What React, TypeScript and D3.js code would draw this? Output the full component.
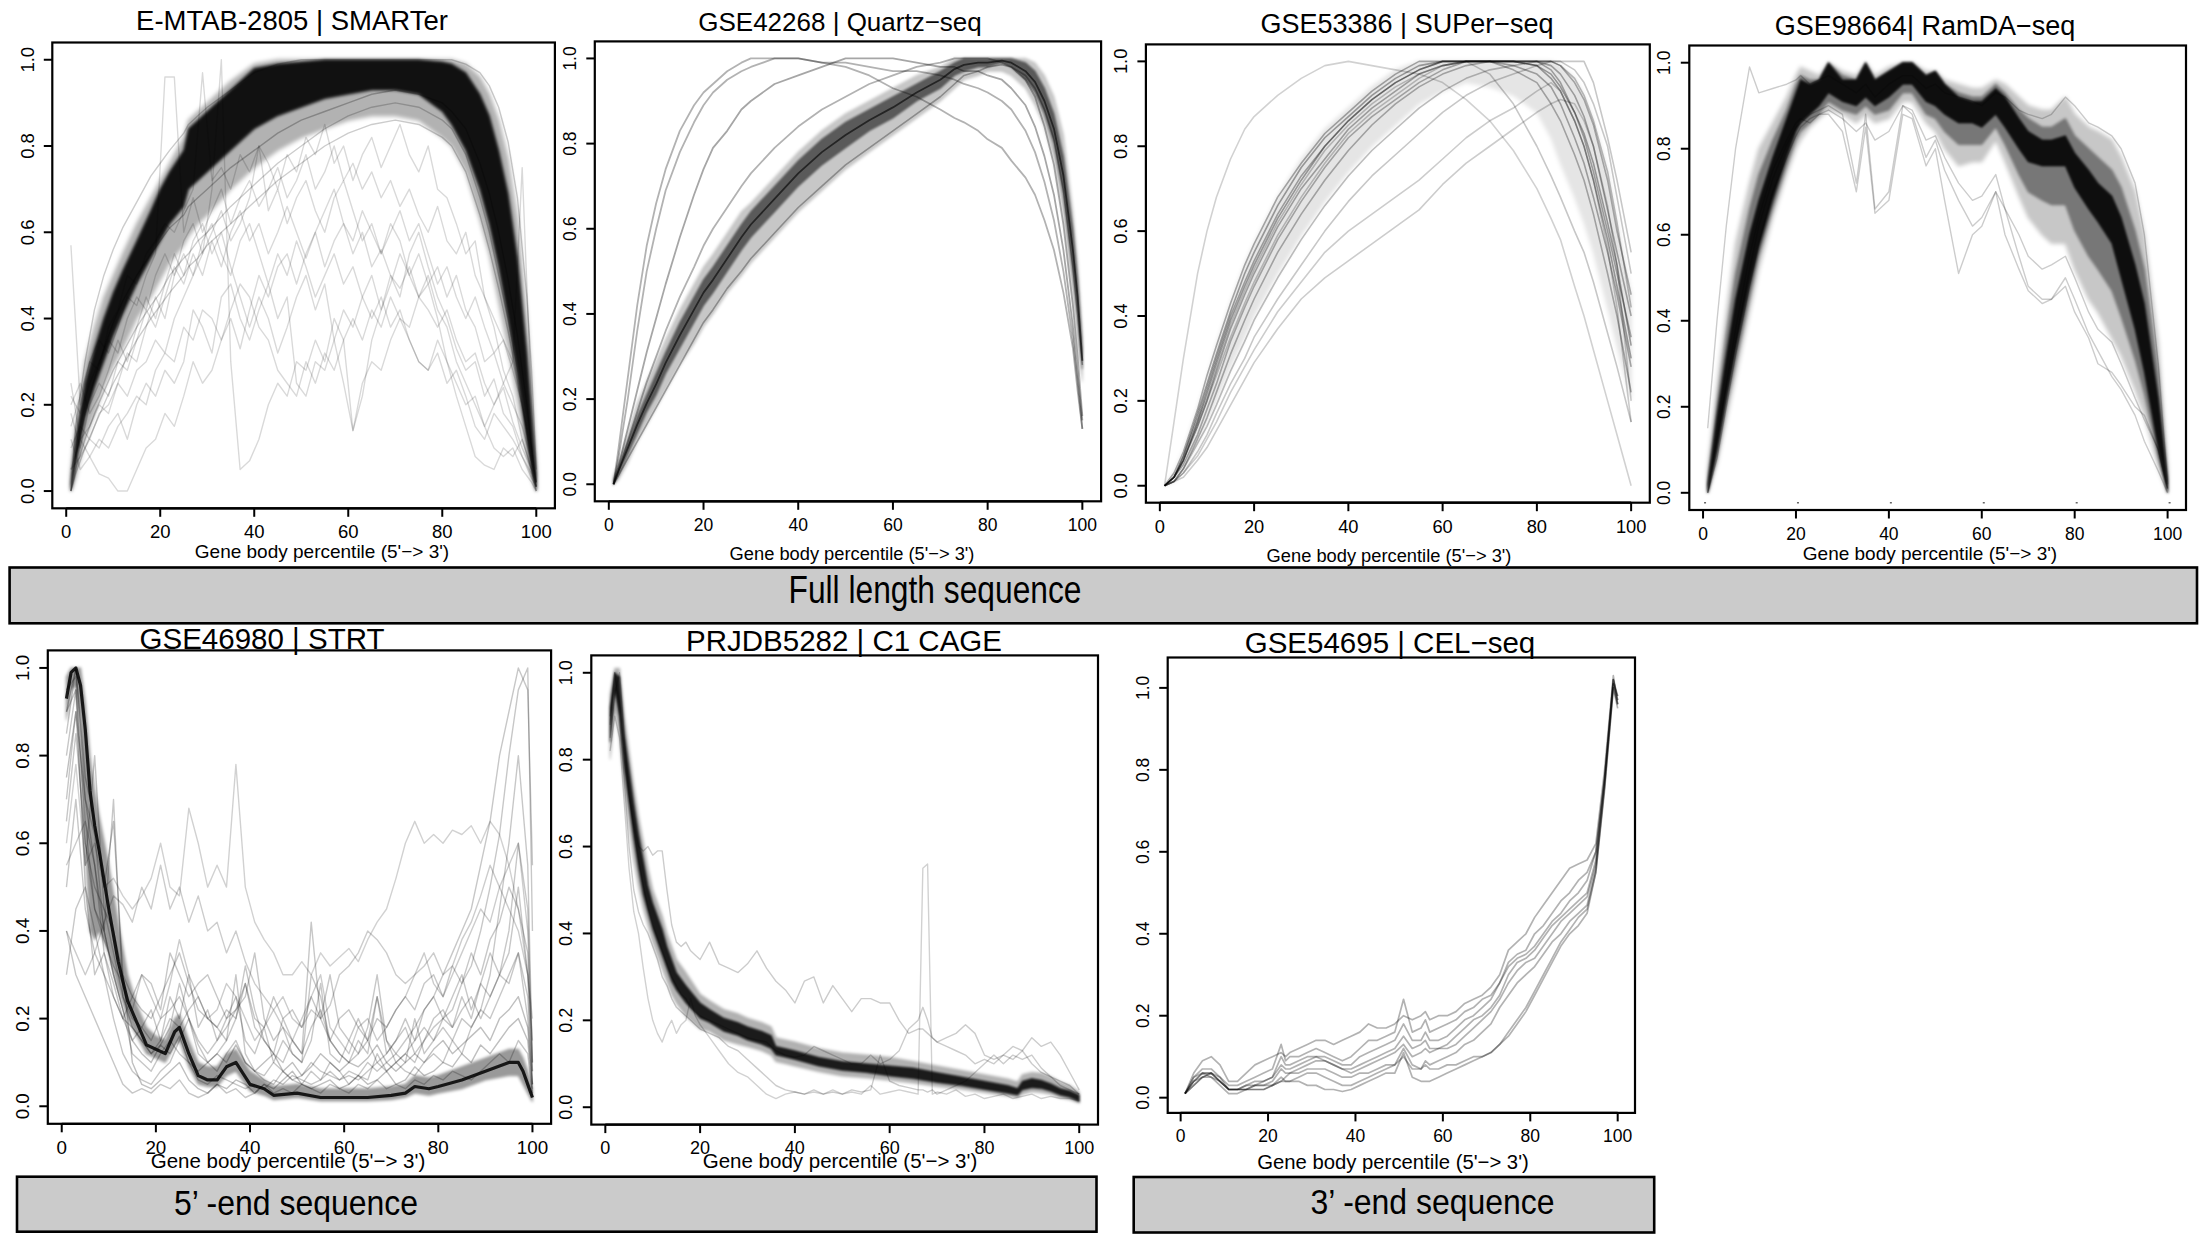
import React from "react";
import * as d3 from "d3";

// ---------------- shared labels / ticks ----------------
const X_TICKS = [0, 20, 40, 60, 80, 100];
const Y_TICKS = [0, 0.2, 0.4, 0.6, 0.8, 1.0];
const X_LABEL = "Gene body percentile (5'\u2212> 3')";
const TITLES = [
  "E-MTAB-2805 | SMARTer",
  "GSE42268 | Quartz\u2212seq",
  "GSE53386 | SUPer\u2212seq",
  "GSE98664| RamDA\u2212seq",
  "GSE46980 | STRT",
  "PRJDB5282 | C1 CAGE",
  "GSE54695 | CEL\u2212seq",
];
const GROUP_LABELS = ["Full length sequence", "5\u2019 -end sequence", "3\u2019 -end sequence"];

// odd percentiles grid used for jagged profiles
const ODD_GRID = [1,3,5,7,9,11,13,15,17,19,21,23,25,27,29,31,33,35,37,39,41,43,45,47,49,51,53,55,57,59,61,63,65,67,69,71,73,75,77,79,81,83,85,87,89,91,93,95,97,99,100];

// ---------------- Panel 1: SMARTer ----------------
const P1_GRID = [1,2,4,6,8,10,12,15,18,20,22,25,26,28,30,35,40,45,50,55,60,65,70,75,80,82,85,88,90,92,94,96,98,99,100];
const P1_CORE_LO = [0.0,0.06,0.17,0.24,0.30,0.36,0.41,0.48,0.54,0.58,0.62,0.66,0.70,0.72,0.74,0.79,0.84,0.87,0.89,0.91,0.92,0.93,0.93,0.92,0.88,0.85,0.79,0.70,0.62,0.52,0.40,0.27,0.12,0.05,0.0];
const P1_CORE_HI = [0.02,0.12,0.25,0.33,0.40,0.46,0.51,0.58,0.65,0.70,0.74,0.79,0.84,0.86,0.88,0.93,0.98,0.99,0.995,1.0,1.0,1.0,1.0,1.0,0.995,0.99,0.97,0.92,0.87,0.79,0.69,0.54,0.32,0.18,0.04];
const P1_OUTER_LO = [0.0,0.03,0.12,0.18,0.24,0.29,0.33,0.40,0.45,0.49,0.53,0.57,0.59,0.62,0.64,0.70,0.75,0.79,0.82,0.84,0.86,0.87,0.87,0.86,0.82,0.80,0.74,0.63,0.55,0.44,0.33,0.21,0.08,0.03,0.0];
const P1_OUTER_HI = [0.04,0.15,0.30,0.38,0.45,0.50,0.55,0.62,0.68,0.72,0.76,0.82,0.86,0.88,0.90,0.95,0.99,1.0,1.0,1.0,1.0,1.0,1.0,1.0,1.0,1.0,0.99,0.96,0.92,0.86,0.77,0.63,0.40,0.25,0.06];
const P1_S1 = [0.0,0.05,0.12,0.18,0.23,0.28,0.32,0.38,0.43,0.46,0.50,0.54,0.55,0.58,0.60,0.66,0.71,0.76,0.80,0.84,0.87,0.89,0.90,0.89,0.86,0.84,0.78,0.68,0.60,0.50,0.40,0.28,0.14,0.07,0.01];
const P1_S2 = [0.0,0.04,0.10,0.15,0.20,0.25,0.29,0.35,0.40,0.43,0.46,0.50,0.52,0.54,0.57,0.62,0.67,0.72,0.76,0.80,0.83,0.85,0.86,0.85,0.82,0.80,0.74,0.64,0.56,0.47,0.37,0.26,0.13,0.06,0.01];
const P1_S3 = [0.0,0.08,0.18,0.26,0.33,0.39,0.44,0.50,0.55,0.58,0.61,0.64,0.66,0.68,0.70,0.75,0.79,0.83,0.86,0.88,0.90,0.92,0.93,0.92,0.90,0.88,0.84,0.76,0.69,0.60,0.49,0.36,0.20,0.10,0.02];
const P1_S4 = [0.0,0.15,0.30,0.42,0.50,0.56,0.61,0.67,0.73,0.76,0.79,0.83,0.85,0.87,0.89,0.93,0.97,0.99,1.0,1.0,1.0,1.0,1.0,1.0,1.0,1.0,0.99,0.97,0.94,0.89,0.81,0.68,0.45,0.28,0.05];
const P1_N1 = [.57,.2,.3,.35,.32,.38,.45,.43,.5,.55,.96,.96,.6,.68,.6,.65,.7,.62,.68,.72,.66,.7,.75,.68,.72,.78,.7,.74,.8,.72,.76,.7,.74,.68,.72,.66,.7,.64,.6,.66,.58,.55,.6,.5,.45,.4,.35,.3,.2,.08,.02];
const P1_N2 = [.25,.12,.08,.04,.03,0,0,.05,.1,.12,.18,.15,.22,.3,.25,.28,.35,.4,.33,.42,.5,.45,.52,.55,.48,.55,.6,.52,.58,.62,.55,.6,.52,.56,.5,.47,.52,.45,.42,.38,.42,.35,.3,.32,.25,.2,.24,.16,.1,.05,.01];
const P1_N3 = [.1,.15,.12,.18,.2,.25,.22,.28,.3,.35,.32,.4,.45,.5,.55,.7,1.0,.3,.05,.07,.12,.2,.25,.22,.3,.28,.35,.3,.4,.35,.14,.25,.3,.28,.35,.4,.38,.45,.5,.42,.38,.3,.25,.2,.15,.1,.08,.1,.05,.02,0];
const P1_N4 = [.2,.25,.18,.22,.28,.35,.3,.38,.45,.4,.48,.55,.5,.58,.62,.55,.6,.52,.45,.38,.45,.4,.32,.38,.45,.5,.42,.48,.35,.25,.14,.22,.35,.42,.5,.45,.55,.6,.52,.45,.4,.33,.28,.3,.22,.26,.18,.15,.08,.03,.01];
const P1_N5 = [.15,.22,.3,.28,.38,.42,.5,.48,.55,.58,.62,.6,.65,.7,.97,.72,.75,.7,.78,.74,.8,.76,.7,.78,.74,.82,.78,.85,.76,.8,.72,.78,.82,.75,.8,.85,.78,.74,.8,.7,.68,.62,.55,.58,.45,.38,.28,.22,.12,.05,.01];
const P1_N6 = [.05,.08,.12,.1,.15,.18,.12,.2,.25,.22,.28,.25,.3,.42,.38,.32,.45,.48,.4,.35,.42,.48,.4,.45,.25,.22,.3,.28,.35,.42,.38,.45,.5,.42,.48,.55,.5,.45,.48,.4,.3,.22,.15,.08,.06,.05,.1,.08,.12,.05,0];
const P1_N7 = [.18,.1,.2,.25,.22,.3,.28,.35,.42,.38,.45,.52,.48,.55,.5,.58,.52,.6,.65,.58,.62,.55,.6,.66,.6,.54,.6,.65,.7,.62,.58,.65,.6,.55,.62,.58,.5,.55,.48,.52,.45,.5,.42,.38,.3,.32,.25,.2,.15,.07,.02];
const P1_N8 = [.05,.12,.15,.2,.18,.25,.32,.3,.38,.45,.4,.5,.55,.5,.58,.62,.55,.5,.58,.62,.55,.48,.55,.5,.58,.52,.45,.5,.55,.48,.52,.45,.4,.45,.38,.42,.35,.3,.28,.35,.3,.25,.2,.22,.15,.2,.25,.3,.75,.2,.02];
const P1_N9 = [.22,.18,.25,.3,.35,.32,.4,.45,.42,.5,.55,.5,.58,.62,.55,.6,.65,.58,.62,.68,.8,.65,.7,.62,.68,.72,.65,.6,.68,.72,.65,.58,.62,.55,.6,.65,.58,.62,.55,.48,.52,.45,.4,.45,.38,.32,.35,.28,.2,.1,.01];
const P1_N10 = [.12,.05,.08,.12,.1,.15,.18,.22,.2,.28,.32,.3,.38,.35,.42,.4,.35,.42,.48,.45,.38,.35,.28,.25,.22,.3,.25,.32,.28,.35,.4,.35,.42,.38,.45,.4,.35,.3,.28,.32,.25,.28,.22,.15,.12,.18,.15,.12,.08,.04,0];

// ---------------- Panel 2: Quartz-seq ----------------
const P2_GRID = [1,2,4,6,8,10,12,15,18,20,22,25,28,30,35,40,45,50,55,60,65,70,73,75,78,80,83,85,88,90,92,94,96,98,99,100];
const P2_CORE_LO = [0.0,0.02,0.07,0.12,0.17,0.21,0.26,0.32,0.38,0.42,0.45,0.50,0.55,0.58,0.64,0.70,0.75,0.79,0.83,0.86,0.90,0.93,0.96,0.97,0.98,0.98,0.99,0.98,0.95,0.92,0.87,0.80,0.68,0.50,0.40,0.27];
const P2_CORE_HI = [0.01,0.04,0.10,0.16,0.21,0.26,0.31,0.38,0.44,0.48,0.51,0.56,0.61,0.64,0.70,0.76,0.81,0.85,0.88,0.91,0.94,0.97,0.99,1.0,1.0,1.0,1.0,1.0,0.99,0.97,0.93,0.87,0.77,0.60,0.48,0.32];
const P2_OUTER_LO = [0.0,0.01,0.05,0.10,0.14,0.18,0.22,0.28,0.33,0.37,0.40,0.45,0.49,0.52,0.58,0.64,0.69,0.74,0.78,0.82,0.86,0.90,0.93,0.95,0.96,0.97,0.97,0.96,0.93,0.89,0.84,0.76,0.63,0.44,0.33,0.24];
const P2_OUTER_HI = [0.02,0.05,0.12,0.19,0.24,0.29,0.34,0.41,0.47,0.51,0.54,0.59,0.64,0.66,0.72,0.78,0.83,0.87,0.90,0.93,0.96,0.98,1.0,1.0,1.0,1.0,1.0,1.0,1.0,0.99,0.96,0.91,0.82,0.64,0.52,0.35];
const P2_Q1 = [0.0,0.08,0.25,0.42,0.56,0.66,0.74,0.83,0.89,0.92,0.94,0.97,0.99,1.0,1.0,1.0,0.99,0.98,0.96,0.93,0.91,0.88,0.86,0.85,0.83,0.81,0.79,0.76,0.72,0.68,0.62,0.55,0.45,0.32,0.22,0.13];
const P2_Q2 = [0.0,0.06,0.20,0.36,0.50,0.60,0.69,0.78,0.85,0.89,0.92,0.95,0.97,0.98,1.0,1.0,0.99,0.99,0.98,0.97,0.97,0.96,0.95,0.94,0.93,0.92,0.90,0.88,0.83,0.78,0.71,0.62,0.50,0.34,0.24,0.13];
const P2_Q3 = [0.0,0.04,0.13,0.22,0.31,0.39,0.47,0.58,0.68,0.74,0.79,0.83,0.88,0.90,0.94,0.96,0.98,1.0,1.0,1.0,0.99,0.98,0.98,0.97,0.97,0.96,0.95,0.93,0.89,0.84,0.77,0.68,0.55,0.37,0.26,0.15];
const P2_Q4 = [0.0,0.03,0.10,0.17,0.24,0.30,0.36,0.44,0.51,0.56,0.60,0.65,0.70,0.73,0.79,0.84,0.88,0.91,0.94,0.96,0.98,0.99,1.0,1.0,1.0,1.0,0.99,0.98,0.95,0.91,0.84,0.75,0.61,0.42,0.30,0.16];
const P2_QC = [0.0,0.03,0.085,0.14,0.19,0.235,0.285,0.35,0.41,0.45,0.48,0.53,0.58,0.61,0.67,0.73,0.78,0.82,0.855,0.885,0.92,0.95,0.975,0.985,0.99,0.99,0.995,0.99,0.97,0.945,0.90,0.835,0.725,0.55,0.44,0.29];
const P2_QL = [0.0,0.02,0.06,0.10,0.14,0.18,0.22,0.28,0.34,0.38,0.41,0.46,0.50,0.53,0.59,0.65,0.70,0.75,0.79,0.83,0.87,0.91,0.94,0.96,0.97,0.98,0.985,0.98,0.96,0.93,0.88,0.81,0.69,0.51,0.40,0.28];

// ---------------- Panel 3: SUPer-seq ----------------
const P3_GRID = [1,3,5,8,10,12,15,18,20,25,30,35,40,45,50,55,60,65,70,75,80,83,85,88,90,92,95,97,100];
const P3_LO = [0,0.01,0.04,0.10,0.15,0.20,0.28,0.35,0.40,0.50,0.59,0.67,0.74,0.80,0.85,0.90,0.93,0.95,0.94,0.92,0.88,0.82,0.76,0.68,0.62,0.55,0.42,0.33,0.20];
const P3_HI = [0.0,0.03,0.08,0.18,0.25,0.33,0.43,0.52,0.57,0.68,0.77,0.84,0.89,0.94,0.98,1.0,1.0,1.0,1.0,1.0,1.0,1.0,0.99,0.96,0.92,0.86,0.74,0.62,0.45];
const P3_S1 = [0,0.03,0.08,0.18,0.26,0.33,0.43,0.52,0.57,0.68,0.76,0.83,0.88,0.93,0.97,1.0,1.0,1.0,1.0,1.0,1.0,0.98,0.95,0.88,0.82,0.74,0.60,0.50,0.35];
const P3_S2 = [0,0.02,0.07,0.16,0.23,0.30,0.40,0.48,0.53,0.64,0.73,0.80,0.86,0.91,0.95,0.98,1.0,1.0,1.0,0.99,0.97,0.94,0.90,0.82,0.76,0.68,0.55,0.45,0.28];
const P3_S3 = [0,0.02,0.06,0.14,0.20,0.27,0.37,0.45,0.50,0.61,0.70,0.77,0.84,0.89,0.93,0.97,0.99,1.0,1.0,1.0,1.0,0.99,0.97,0.92,0.87,0.80,0.65,0.55,0.40];
const P3_S4 = [0,0.02,0.05,0.12,0.18,0.24,0.34,0.42,0.47,0.58,0.67,0.75,0.82,0.87,0.91,0.95,0.98,1.0,1.0,0.98,0.95,0.90,0.86,0.78,0.72,0.64,0.50,0.40,0.22];
const P3_S5 = [0,0.01,0.04,0.11,0.16,0.22,0.31,0.39,0.44,0.55,0.64,0.72,0.79,0.85,0.90,0.94,0.97,0.99,1.0,1.0,1.0,1.0,0.99,0.95,0.91,0.85,0.72,0.60,0.45];
const P3_S6 = [0,0.01,0.04,0.10,0.14,0.19,0.27,0.34,0.39,0.49,0.58,0.66,0.73,0.79,0.84,0.89,0.93,0.96,0.98,0.99,1.0,1.0,0.99,0.96,0.92,0.86,0.74,0.62,0.42];
const P3_S7 = [0,0.01,0.03,0.08,0.12,0.17,0.24,0.30,0.35,0.44,0.52,0.60,0.67,0.73,0.78,0.83,0.88,0.92,0.95,0.97,0.99,1.0,1.0,0.98,0.95,0.90,0.80,0.68,0.50];
const P3_S8 = [0,0.01,0.02,0.06,0.09,0.13,0.19,0.25,0.29,0.37,0.44,0.49,0.53,0.57,0.61,0.65,0.71,0.76,0.80,0.84,0.88,0.90,0.91,0.90,0.86,0.80,0.66,0.52,0.20];
const P3_S9 = [0,0.01,0.03,0.07,0.11,0.15,0.22,0.28,0.32,0.41,0.48,0.55,0.60,0.64,0.68,0.72,0.77,0.82,0.86,0.89,0.93,0.95,0.93,0.86,0.80,0.72,0.56,0.42,0.15];
const P3_S10 = [0,0.02,0.06,0.15,0.21,0.28,0.38,0.46,0.51,0.62,0.71,0.79,0.85,0.90,0.94,0.97,0.99,1.0,0.97,0.90,0.80,0.73,0.68,0.60,0.55,0.48,0.36,0.28,0.15];
const P3_S11 = [0,0.02,0.06,0.14,0.20,0.26,0.35,0.43,0.48,0.59,0.68,0.76,0.83,0.88,0.92,0.96,0.99,1.0,1.0,1.0,1.0,1.0,1.0,1.0,1.0,0.95,0.82,0.72,0.55];
const P3_S12 = [0,0.15,0.30,0.50,0.60,0.68,0.77,0.84,0.87,0.92,0.96,0.99,1.0,0.99,0.98,0.97,0.95,0.91,0.86,0.79,0.70,0.63,0.58,0.47,0.40,0.32,0.20,0.12,0.0];
const P3_S13 = [0,0.02,0.07,0.17,0.24,0.31,0.41,0.50,0.55,0.66,0.75,0.82,0.87,0.92,0.96,0.99,1.0,1.0,1.0,1.0,0.99,0.96,0.93,0.86,0.80,0.72,0.58,0.47,0.30];
const P3_S14 = [0,0.02,0.06,0.15,0.22,0.29,0.39,0.47,0.52,0.63,0.72,0.80,0.86,0.91,0.95,0.98,1.0,1.0,1.0,1.0,0.99,0.97,0.94,0.88,0.83,0.76,0.62,0.52,0.33];

// ---------------- Panel 4: RamDA-seq ----------------
const P4_GRID = [1,3,5,7,10,12,15,18,20,21,23,25,27,30,33,35,37,40,43,45,48,50,52,55,58,60,63,65,68,70,73,75,78,80,83,85,88,90,93,95,98,100];
const P4_CORE_LO = [0.0,0.10,0.22,0.33,0.48,0.57,0.68,0.78,0.84,0.86,0.88,0.90,0.93,0.91,0.90,0.92,0.90,0.92,0.95,0.95,0.91,0.90,0.88,0.86,0.86,0.85,0.88,0.85,0.80,0.77,0.76,0.76,0.76,0.71,0.66,0.63,0.58,0.50,0.38,0.28,0.10,0.0];
const P4_CORE_HI = [0.02,0.18,0.32,0.45,0.60,0.68,0.78,0.87,0.93,0.96,0.95,0.96,1.0,0.96,0.96,1.0,0.96,0.98,1.0,1.0,0.97,0.98,0.95,0.92,0.91,0.91,0.94,0.92,0.87,0.84,0.82,0.82,0.83,0.79,0.75,0.72,0.69,0.64,0.53,0.44,0.22,0.03];
const P4_MID_LO = [0.0,0.08,0.2,0.3,0.45,0.55,0.66,0.76,0.82,0.84,0.86,0.88,0.91,0.89,0.88,0.9,0.88,0.89,0.93,0.93,0.88,0.87,0.84,0.81,0.81,0.81,0.85,0.81,0.74,0.7,0.68,0.67,0.67,0.61,0.55,0.52,0.47,0.41,0.31,0.23,0.08,0.0];
const P4_MID_HI = [0.03,0.21,0.37,0.51,0.66,0.74,0.82,0.89,0.95,0.97,0.96,0.96,1.0,0.97,0.96,1.0,0.96,0.98,1.0,1.0,0.97,0.98,0.95,0.93,0.92,0.92,0.95,0.93,0.89,0.87,0.85,0.85,0.87,0.83,0.8,0.78,0.75,0.71,0.61,0.52,0.28,0.04];
const P4_OUTER_LO = [0.0,0.07,0.17,0.27,0.42,0.52,0.64,0.74,0.80,0.82,0.85,0.87,0.89,0.88,0.86,0.88,0.86,0.87,0.91,0.91,0.86,0.84,0.80,0.76,0.77,0.77,0.82,0.77,0.69,0.64,0.60,0.58,0.58,0.52,0.45,0.42,0.36,0.32,0.24,0.18,0.06,0.0];
const P4_OUTER_HI = [0.05,0.25,0.42,0.58,0.72,0.80,0.86,0.92,0.97,0.99,0.98,0.97,1.0,0.98,0.97,1.0,0.97,0.99,1.0,1.0,0.98,0.98,0.96,0.95,0.94,0.94,0.96,0.95,0.92,0.90,0.89,0.89,0.92,0.88,0.85,0.84,0.82,0.78,0.70,0.60,0.35,0.06];
const P4_R1 = [0.0,0.12,0.25,0.38,0.55,0.64,0.75,0.82,0.86,0.87,0.86,0.88,0.88,0.84,0.70,0.85,0.65,0.68,0.88,0.87,0.76,0.80,0.68,0.51,0.60,0.62,0.70,0.60,0.52,0.47,0.44,0.45,0.50,0.45,0.37,0.33,0.27,0.24,0.18,0.12,0.05,0.0];
const P4_R2 = [0.0,0.10,0.22,0.35,0.52,0.62,0.73,0.81,0.85,0.86,0.88,0.89,0.90,0.88,0.72,0.88,0.66,0.70,0.90,0.88,0.78,0.82,0.75,0.68,0.62,0.64,0.70,0.66,0.60,0.55,0.52,0.53,0.55,0.50,0.42,0.38,0.35,0.30,0.22,0.17,0.10,0.01];
const P4_R3 = [0.15,0.40,0.62,0.80,0.99,0.93,0.94,0.95,0.96,0.97,0.95,0.96,0.97,0.95,0.93,0.95,0.92,0.95,0.97,0.97,0.94,0.95,0.93,0.92,0.91,0.90,0.93,0.92,0.89,0.88,0.87,0.88,0.92,0.90,0.86,0.85,0.83,0.80,0.72,0.60,0.30,0.02];
const P4_R4 = [0.0,0.08,0.20,0.32,0.48,0.58,0.70,0.78,0.83,0.85,0.87,0.88,0.89,0.87,0.84,0.86,0.82,0.84,0.90,0.89,0.82,0.83,0.78,0.72,0.68,0.69,0.74,0.66,0.55,0.48,0.45,0.45,0.48,0.42,0.36,0.30,0.28,0.25,0.20,0.18,0.10,0.01];

// ---------------- Panel 5: STRT ----------------
const P5_GRID = [1,2,3,4,5,6,7,8,10,12,14,16,18,20,22,24,25,27,29,31,33,35,37,40,43,45,50,55,60,65,70,73,75,78,80,85,90,95,97,98,99,100];
const P5_CORE = [0.93,0.99,1.0,0.96,0.86,0.72,0.64,0.58,0.45,0.33,0.24,0.19,0.14,0.13,0.12,0.17,0.18,0.12,0.07,0.06,0.06,0.09,0.10,0.05,0.04,0.025,0.03,0.02,0.02,0.02,0.025,0.03,0.045,0.04,0.045,0.06,0.08,0.10,0.10,0.08,0.05,0.02];
const P5_CORE_LO = [0.88,0.95,0.96,0.88,0.60,0.40,0.38,0.40,0.35,0.27,0.20,0.16,0.12,0.11,0.10,0.14,0.15,0.09,0.05,0.045,0.045,0.07,0.08,0.035,0.025,0.015,0.02,0.012,0.012,0.012,0.015,0.02,0.03,0.025,0.03,0.04,0.06,0.07,0.07,0.05,0.03,0.01];
const P5_CORE_HI = [0.98,1.0,1.0,1.0,0.92,0.80,0.72,0.66,0.55,0.42,0.30,0.23,0.18,0.16,0.15,0.20,0.21,0.15,0.10,0.09,0.09,0.12,0.13,0.08,0.06,0.045,0.05,0.04,0.04,0.04,0.045,0.05,0.07,0.065,0.07,0.09,0.11,0.13,0.13,0.11,0.08,0.04];
const P5_T1 = [.6,.78,.55,.6,.5,.52,.48,.45,.48,.52,.6,.5,.48,.68,.6,.5,.55,.5,.78,.5,.42,.38,.35,.3,.3,.33,.3,.35,.32,.34,.36,.33,.38,.42,.45,.52,.6,.65,.6,.62,.6,.63,.62,.64,.6,.65,.62,.55,.45,.3,.2];
const P5_T2 = [.4,.35,.3,.35,.42,.48,.46,.42,.5,.45,.55,.45,.5,.42,.48,.4,.42,.35,.4,.33,.28,.25,.22,.25,.2,.18,.22,.2,.23,.3,.32,.35,.4,.38,.35,.3,.28,.3,.32,.35,.3,.32,.38,.42,.48,.55,.5,.45,.4,.3,.15];
const P5_T3 = [.95,.98,.6,.5,.45,.35,.25,.18,.15,.12,.14,.18,.28,.2,.12,.1,.08,.12,.15,.1,.08,.06,.05,.08,.06,.07,.1,.08,.07,.06,.08,.07,.1,.08,.1,.12,.15,.18,.22,.25,.3,.35,.4,.45,.55,.65,.8,.9,1.0,.95,.55];
const P5_T4 = [.85,1.0,.7,.62,.4,.3,.22,.12,.1,.08,.12,.15,.12,.1,.06,.05,.07,.06,.05,.04,.05,.04,.06,.05,.07,.06,.05,.06,.08,.06,.07,.06,.08,.1,.08,.1,.12,.1,.15,.18,.2,.22,.28,.32,.4,.5,.62,.8,.95,1.0,.4];
const P5_T5 = [.7,.9,.55,.8,.45,.4,.3,.25,.22,.2,.25,.3,.35,.28,.22,.2,.18,.22,.2,.32,.22,.15,.12,.2,.15,.12,.42,.2,.3,.18,.15,.2,.15,.25,.12,.15,.2,.15,.22,.25,.2,.25,.3,.22,.28,.35,.3,.4,.6,.45,.1];
const P5_T6 = [.8,.95,.65,.55,.35,.28,.2,.15,.18,.22,.15,.25,.2,.3,.18,.22,.15,.2,.25,.15,.12,.18,.1,.15,.12,.1,.15,.28,.12,.1,.15,.12,.18,.3,.15,.12,.1,.2,.12,.15,.18,.15,.2,.18,.22,.2,.25,.3,.35,.25,.05];
const P5_T7 = [.9,1.0,.75,.65,.5,.65,.3,.1,.05,.04,.06,.08,.1,.06,.04,.03,.05,.04,.06,.05,.03,.05,.04,.06,.08,.05,.04,.05,.06,.04,.05,.07,.05,.06,.08,.05,.06,.09,.07,.08,.1,.09,.12,.1,.14,.12,.15,.18,.2,.15,.03];
const P5_T8 = [.9,.95,.5,.3,.35,.25,.2,.25,.3,.28,.22,.35,.3,.25,.28,.3,.25,.2,.22,.28,.2,.18,.25,.2,.22,.18,.25,.2,.15,.2,.22,.18,.15,.2,.18,.22,.25,.22,.28,.3,.25,.32,.28,.35,.3,.38,.42,.5,.45,.35,.08];
const P5_T9 = [.4,.3,.25,.2,.15,.1,.05,.03,.04,.03,.05,.04,.06,.03,.02,.03,.05,.03,.04,.02,.03,.05,.03,.04,.03,.05,.04,.03,.05,.04,.03,.05,.04,.06,.04,.05,.04,.06,.05,.07,.06,.08,.07,.06,.08,.1,.12,.1,.15,.12,.02];
const P5_T10 = [.65,.85,.6,.45,.4,.7,.25,.2,.18,.15,.2,.22,.25,.2,.15,.12,.15,.18,.22,.25,.35,.2,.15,.18,.12,.1,.3,.25,.15,.12,.1,.15,.12,.25,.15,.1,.12,.15,.18,.15,.2,.18,.22,.25,.2,.25,.3,.35,.5,.3,.05];
const P5_T11 = [.5,.7,.45,.35,.3,.25,.2,.18,.15,.12,.15,.2,.18,.22,.25,.2,.18,.15,.2,.28,.18,.15,.12,.1,.15,.12,.18,.22,.15,.12,.1,.12,.15,.1,.12,.15,.18,.12,.15,.2,.22,.18,.25,.2,.28,.25,.3,.28,.35,.2,.05];
const P5_T12 = [.75,.9,.7,.55,.4,.3,.22,.15,.12,.1,.14,.12,.16,.1,.08,.1,.12,.1,.14,.1,.08,.1,.12,.08,.1,.07,.09,.12,.1,.08,.1,.09,.11,.14,.1,.08,.1,.12,.1,.13,.15,.12,.14,.16,.18,.15,.2,.22,.25,.18,.04];
const P5_T13 = [.3,.45,.5,.4,.3,.2,.12,.08,.06,.05,.08,.1,.15,.2,.14,.1,.12,.15,.3,.12,.08,.07,.1,.08,.06,.05,.08,.06,.1,.08,.05,.07,.06,.12,.08,.1,.08,.07,.1,.12,.1,.15,.12,.18,.22,.3,.45,.6,.8,.55,.1];
const P5_T14 = [.55,.6,.65,.45,.38,.32,.28,.22,.3,.25,.2,.28,.38,.3,.25,.2,.22,.28,.25,.2,.15,.18,.22,.18,.15,.2,.25,.3,.18,.15,.12,.18,.2,.15,.18,.22,.25,.3,.35,.28,.25,.3,.35,.4,.45,.42,.5,.55,.6,.4,.08];

// ---------------- Panel 6: C1 CAGE ----------------
const P6_GRID = [1,2,3,4,5,6,7,8,9,10,11,12,13,14,15,17,20,22,25,28,30,33,35,36,38,40,45,50,55,60,65,70,75,80,85,87,88,90,92,94,96,98,100];
const P6_CORE_LO = [0.84,0.96,0.90,0.78,0.70,0.62,0.55,0.49,0.45,0.41,0.38,0.35,0.32,0.29,0.27,0.24,0.205,0.195,0.175,0.165,0.155,0.145,0.135,0.12,0.115,0.11,0.095,0.085,0.08,0.072,0.066,0.057,0.05,0.041,0.032,0.028,0.04,0.045,0.043,0.037,0.028,0.023,0.013];
const P6_CORE_HI = [0.92,1.0,0.99,0.86,0.78,0.70,0.63,0.57,0.51,0.47,0.44,0.41,0.37,0.34,0.31,0.28,0.24,0.225,0.205,0.195,0.185,0.175,0.165,0.14,0.135,0.13,0.115,0.105,0.10,0.095,0.09,0.08,0.07,0.06,0.05,0.043,0.06,0.066,0.062,0.054,0.043,0.038,0.028];
const P6_OUTER_LO = [0.80,0.92,0.85,0.74,0.65,0.57,0.51,0.46,0.42,0.38,0.35,0.32,0.29,0.26,0.24,0.21,0.18,0.175,0.155,0.145,0.14,0.13,0.12,0.105,0.10,0.095,0.082,0.072,0.068,0.062,0.056,0.048,0.042,0.034,0.026,0.022,0.03,0.036,0.034,0.03,0.022,0.018,0.01];
const P6_OUTER_HI = [0.95,1.01,1.01,0.90,0.82,0.74,0.67,0.61,0.55,0.50,0.47,0.44,0.40,0.37,0.34,0.31,0.26,0.245,0.225,0.215,0.205,0.195,0.185,0.16,0.155,0.15,0.135,0.125,0.12,0.115,0.105,0.095,0.085,0.075,0.065,0.058,0.075,0.08,0.078,0.07,0.058,0.05,0.035];
const P6_NGRID = [1,2,3,4,5,6,7,8,9,10,11,12,13,14,15,16,17,18,19,20,22,24,26,28,30,32,34,36,38,40,42,44,46,48,50,52,54,56,58,60,62,64,66,67,68,69,70,72,74,76,78,80,82,84,86,88,90,92,94,96,98,100];
const P6_UP = [0.85,0.95,1.0,0.85,0.72,0.65,0.60,0.59,0.60,0.58,0.59,0.59,0.50,0.42,0.38,0.37,0.38,0.36,0.35,0.34,0.38,0.33,0.32,0.31,0.33,0.36,0.32,0.29,0.27,0.24,0.29,0.30,0.24,0.28,0.25,0.22,0.25,0.25,0.24,0.24,0.20,0.17,0.18,0.18,0.17,0.16,0.15,0.16,0.17,0.19,0.17,0.12,0.11,0.12,0.14,0.13,0.10,0.08,0.07,0.06,0.05,0.03];
const P6_LOW1 = [0.82,0.90,0.85,0.70,0.55,0.45,0.40,0.32,0.25,0.20,0.17,0.15,0.18,0.20,0.17,0.19,0.20,0.25,0.21,0.19,0.16,0.13,0.10,0.08,0.07,0.05,0.03,0.02,0.03,0.035,0.03,0.035,0.03,0.04,0.03,0.035,0.03,0.05,0.03,0.035,0.04,0.035,0.03,0.55,0.56,0.03,0.035,0.03,0.04,0.025,0.03,0.02,0.025,0.03,0.02,0.025,0.03,0.02,0.025,0.02,0.02,0.015];
const P6_LOW2 = [0.88,1.0,0.90,0.75,0.60,0.50,0.45,0.42,0.40,0.37,0.34,0.30,0.28,0.25,0.23,0.22,0.21,0.20,0.19,0.18,0.17,0.16,0.14,0.13,0.11,0.09,0.07,0.05,0.04,0.035,0.03,0.04,0.03,0.035,0.03,0.04,0.035,0.04,0.12,0.06,0.05,0.045,0.04,0.04,0.035,0.04,0.03,0.04,0.05,0.06,0.08,0.10,0.12,0.10,0.12,0.11,0.12,0.09,0.07,0.05,0.04,0.03];
const P6_MID = [0.90,1.0,0.93,0.80,0.72,0.64,0.57,0.51,0.46,0.42,0.39,0.36,0.33,0.30,0.28,0.26,0.25,0.23,0.22,0.21,0.20,0.19,0.18,0.17,0.16,0.155,0.15,0.13,0.12,0.115,0.12,0.14,0.13,0.12,0.11,0.10,0.10,0.12,0.10,0.11,0.13,0.18,0.20,0.23,0.20,0.16,0.15,0.14,0.13,0.12,0.10,0.11,0.10,0.12,0.11,0.13,0.16,0.14,0.15,0.12,0.08,0.04];

// ---------------- Panel 7: CEL-seq ----------------
const P7_GRID = [1,3,5,7,9,11,13,15,17,19,21,23,24,25,27,29,31,33,35,37,39,41,43,45,47,49,51,53,55,56,57,59,61,63,65,67,69,71,73,75,77,79,81,83,85,87,89,91,93,95,97,99,100];
const P7_C1 = [.01,.06,.09,.10,.08,.04,.04,.06,.08,.09,.10,.11,.10,.11,.12,.13,.14,.14,.13,.14,.15,.16,.18,.17,.17,.18,.20,.19,.20,.21,.19,.20,.20,.21,.23,.24,.25,.27,.30,.36,.38,.40,.44,.47,.50,.53,.56,.57,.58,.62,.80,1.03,.96];
const P7_C2 = [.01,.05,.07,.07,.05,.03,.03,.04,.05,.06,.07,.13,.09,.10,.10,.11,.12,.11,.10,.09,.10,.12,.14,.14,.15,.16,.24,.16,.17,.19,.16,.17,.18,.19,.21,.22,.24,.25,.28,.33,.35,.36,.40,.42,.45,.48,.50,.53,.55,.60,.78,1.02,.98];
const P7_C3 = [.01,.05,.06,.06,.04,.02,.02,.03,.04,.04,.05,.10,.08,.08,.09,.10,.10,.10,.09,.08,.08,.10,.11,.12,.13,.14,.18,.14,.14,.16,.14,.14,.15,.17,.19,.20,.22,.24,.28,.32,.34,.35,.37,.40,.43,.45,.48,.50,.53,.60,.78,1.02,.97];
const P7_C4 = [.01,.04,.05,.06,.05,.02,.02,.02,.03,.04,.05,.08,.07,.07,.08,.09,.10,.09,.08,.07,.07,.08,.09,.10,.11,.12,.15,.12,.13,.14,.12,.12,.13,.15,.17,.19,.20,.22,.25,.30,.33,.34,.36,.39,.42,.44,.46,.48,.50,.58,.78,1.02,.97];
const P7_C5 = [.01,.04,.06,.05,.04,.02,.02,.03,.03,.03,.04,.07,.06,.06,.07,.08,.09,.09,.08,.07,.06,.07,.08,.09,.10,.11,.13,.10,.11,.12,.11,.12,.12,.13,.15,.17,.19,.21,.24,.28,.31,.33,.34,.37,.40,.43,.45,.47,.49,.57,.77,1.01,.98];
const P7_C6 = [.01,.03,.05,.05,.03,.01,.01,.02,.02,.02,.03,.05,.04,.04,.05,.06,.06,.05,.04,.03,.03,.04,.05,.06,.07,.08,.12,.08,.07,.09,.08,.09,.10,.11,.13,.14,.16,.18,.22,.25,.28,.30,.32,.35,.38,.40,.43,.45,.47,.56,.76,1.01,.96];
const P7_C7 = [.01,.03,.05,.06,.04,.02,.02,.02,.02,.02,.03,.04,.04,.04,.04,.03,.03,.02,.02,.015,.02,.03,.04,.05,.06,.06,.11,.05,.04,.04,.04,.05,.06,.07,.08,.09,.10,.11,.13,.16,.19,.22,.26,.30,.34,.38,.41,.44,.46,.55,.75,1.0,.95];
const P7_C8 = [.01,.04,.06,.06,.04,.02,.02,.02,.03,.03,.03,.04,.05,.06,.06,.07,.07,.07,.06,.05,.05,.06,.06,.07,.08,.08,.10,.07,.07,.08,.07,.07,.08,.08,.09,.10,.10,.11,.13,.15,.18,.21,.25,.29,.33,.37,.40,.42,.45,.55,.76,1.0,.96];

// ---------------- layout ----------------
type Band = { x: number[]; lo: number[]; hi: number[]; op: number; blur?: number };
type Ln = { x: number[]; y: number[]; op: number; w: number };
type PanelSpec = {
  title: string;
  box: [number, number, number, number];
  ylim: [number, number];
  titleX: number; titleY: number; titleSize: number;
  tickSize: number; xlabX: number; xlabY: number; xlabSize: number;
  bands: Band[]; lines: Ln[]; dots?: boolean;
};

const L = (x: number[], y: number[], op: number, w: number): Ln => ({ x, y, op, w });

const PANELS: PanelSpec[] = [
  {
    title: TITLES[0], box: [52.3, 42.5, 554.9, 508.3], ylim: [0, 1],
    titleX: 292, titleY: 20.5, titleSize: 27.5, tickSize: 18.5, xlabX: 322, xlabY: 551.7, xlabSize: 19,
    bands: [
      { x: P1_GRID, lo: P1_OUTER_LO, hi: P1_OUTER_HI, op: 0.3, blur: 2 },
      { x: P1_GRID, lo: P1_CORE_LO, hi: P1_CORE_HI, op: 0.9, blur: 1.5 },
    ],
    lines: [
      L(P1_GRID, P1_S1, 0.2, 1.4), L(P1_GRID, P1_S2, 0.2, 1.4), L(P1_GRID, P1_S3, 0.25, 1.4), L(P1_GRID, P1_S4, 0.2, 1.4),
      L(ODD_GRID, P1_N1, 0.15, 1.4), L(ODD_GRID, P1_N2, 0.15, 1.4), L(ODD_GRID, P1_N3, 0.15, 1.4), L(ODD_GRID, P1_N4, 0.15, 1.4),
      L(ODD_GRID, P1_N5, 0.15, 1.4), L(ODD_GRID, P1_N6, 0.15, 1.4), L(ODD_GRID, P1_N7, 0.15, 1.4), L(ODD_GRID, P1_N8, 0.15, 1.4),
      L(ODD_GRID, P1_N9, 0.15, 1.4), L(ODD_GRID, P1_N10, 0.15, 1.4),
    ],
  },
  {
    title: TITLES[1], box: [594.8, 41.4, 1101.1, 501.3], ylim: [0, 1],
    titleX: 840, titleY: 22.2, titleSize: 26, tickSize: 17.5, xlabX: 852, xlabY: 553.8, xlabSize: 18.3,
    bands: [
      { x: P2_GRID, lo: P2_OUTER_LO, hi: P2_OUTER_HI, op: 0.22, blur: 1.5 },
      { x: P2_GRID, lo: P2_CORE_LO, hi: P2_CORE_HI, op: 0.55, blur: 1.2 },
    ],
    lines: [
      L(P2_GRID, P2_Q1, 0.3, 1.8), L(P2_GRID, P2_Q2, 0.3, 1.8), L(P2_GRID, P2_Q3, 0.35, 1.8), L(P2_GRID, P2_Q4, 0.3, 1.8),
      L(P2_GRID, P2_QC, 0.6, 1.8), L(P2_GRID, P2_QL, 0.3, 1.6),
    ],
  },
  {
    title: TITLES[2], box: [1145.9, 44.4, 1649.8, 502.7], ylim: [0, 1],
    titleX: 1407, titleY: 24, titleSize: 27, tickSize: 18.3, xlabX: 1389, xlabY: 555, xlabSize: 18.3,
    bands: [{ x: P3_GRID, lo: P3_LO, hi: P3_HI, op: 0.1, blur: 2 }],
    lines: [
      L(P3_GRID, P3_S1, 0.32, 1.6), L(P3_GRID, P3_S2, 0.32, 1.6), L(P3_GRID, P3_S3, 0.32, 1.6), L(P3_GRID, P3_S4, 0.3, 1.6),
      L(P3_GRID, P3_S5, 0.3, 1.6), L(P3_GRID, P3_S6, 0.25, 1.6), L(P3_GRID, P3_S7, 0.22, 1.6), L(P3_GRID, P3_S8, 0.2, 1.6),
      L(P3_GRID, P3_S9, 0.2, 1.6), L(P3_GRID, P3_S10, 0.22, 1.6), L(P3_GRID, P3_S11, 0.22, 1.6), L(P3_GRID, P3_S12, 0.18, 1.6),
      L(P3_GRID, P3_S13, 0.35, 1.6), L(P3_GRID, P3_S14, 0.35, 1.6),
    ],
  },
  {
    title: TITLES[3], box: [1689.3, 45.5, 2186, 510], ylim: [0, 1],
    titleX: 1925, titleY: 25.9, titleSize: 27, tickSize: 17.5, xlabX: 1930, xlabY: 553, xlabSize: 19,
    bands: [
      { x: P4_GRID, lo: P4_OUTER_LO, hi: P4_OUTER_HI, op: 0.22, blur: 2 },
      { x: P4_GRID, lo: P4_MID_LO, hi: P4_MID_HI, op: 0.4, blur: 1.8 },
      { x: P4_GRID, lo: P4_CORE_LO, hi: P4_CORE_HI, op: 0.88, blur: 1.3 },
    ],
    lines: [L(P4_GRID, P4_R1, 0.2, 1.4), L(P4_GRID, P4_R2, 0.2, 1.4), L(P4_GRID, P4_R3, 0.2, 1.4), L(P4_GRID, P4_R4, 0.2, 1.4)],
    dots: true,
  },
  {
    title: TITLES[4], box: [47.8, 650.4, 551.1, 1123.8], ylim: [0, 1],
    titleX: 262, titleY: 638.7, titleSize: 29.5, tickSize: 18.8, xlabX: 288, xlabY: 1160.2, xlabSize: 20.5,
    bands: [{ x: P5_GRID, lo: P5_CORE_LO, hi: P5_CORE_HI, op: 0.4, blur: 1.5 }],
    lines: [
      L(ODD_GRID, P5_T1, 0.18, 1.4), L(ODD_GRID, P5_T2, 0.2, 1.4), L(ODD_GRID, P5_T3, 0.22, 1.4), L(ODD_GRID, P5_T4, 0.22, 1.4),
      L(ODD_GRID, P5_T5, 0.22, 1.4), L(ODD_GRID, P5_T6, 0.22, 1.4), L(ODD_GRID, P5_T7, 0.25, 1.4), L(ODD_GRID, P5_T8, 0.22, 1.4),
      L(ODD_GRID, P5_T9, 0.22, 1.4), L(ODD_GRID, P5_T10, 0.22, 1.4), L(ODD_GRID, P5_T11, 0.22, 1.4), L(ODD_GRID, P5_T12, 0.25, 1.4),
      L(ODD_GRID, P5_T13, 0.22, 1.4), L(ODD_GRID, P5_T14, 0.2, 1.4),
      L(P5_GRID, P5_CORE, 0.85, 3.2),
    ],
  },
  {
    title: TITLES[5], box: [591.3, 655.4, 1098, 1124.6], ylim: [0, 1],
    titleX: 844, titleY: 640.7, titleSize: 29.5, tickSize: 18, xlabX: 840, xlabY: 1160.2, xlabSize: 20.5,
    bands: [
      { x: P6_GRID, lo: P6_OUTER_LO, hi: P6_OUTER_HI, op: 0.3, blur: 1.5 },
      { x: P6_GRID, lo: P6_CORE_LO, hi: P6_CORE_HI, op: 0.85, blur: 1 },
    ],
    lines: [L(P6_NGRID, P6_UP, 0.2, 1.4), L(P6_NGRID, P6_LOW1, 0.18, 1.4), L(P6_NGRID, P6_LOW2, 0.2, 1.4), L(P6_NGRID, P6_MID, 0.2, 1.4)],
  },
  {
    title: TITLES[6], box: [1167.7, 657.5, 1635, 1112.9], ylim: [0.004, 1.033],
    titleX: 1390, titleY: 642.8, titleSize: 29.5, tickSize: 17.5, xlabX: 1393, xlabY: 1161.5, xlabSize: 20.3,
    bands: [],
    lines: [
      L(P7_GRID, P7_C1, 0.3, 1.7), L(P7_GRID, P7_C2, 0.3, 1.7), L(P7_GRID, P7_C3, 0.3, 1.7), L(P7_GRID, P7_C4, 0.3, 1.7),
      L(P7_GRID, P7_C5, 0.3, 1.7), L(P7_GRID, P7_C6, 0.3, 1.7), L(P7_GRID, P7_C7, 0.3, 1.7), L(P7_GRID, P7_C8, 0.3, 1.7),
    ],
  },
];

const FONT = "'Liberation Sans', Arial, Helvetica, sans-serif";
const NARROW = "'Liberation Sans Narrow', 'Arial Narrow', 'Liberation Sans', Arial, sans-serif";

function Panel({ p, idx }: { p: PanelSpec; idx: number }) {
  const [l, t, r, b] = p.box;
  const xlim = [1, 100];
  const px = (xlim[1] - xlim[0]) * 0.04;
  const py = (p.ylim[1] - p.ylim[0]) * 0.04;
  const x = d3.scaleLinear().domain([xlim[0] - px, xlim[1] + px]).range([l, r]);
  const y = d3.scaleLinear().domain([p.ylim[0] - py, p.ylim[1] + py]).range([b, t]);
  const clipId = `clip${idx}`;
  const tick = 8.5;
  return (
    <g>
      <defs>
        <clipPath id={clipId}>
          <rect x={l} y={t} width={r - l} height={b - t} />
        </clipPath>
        {p.bands.map((bd, i) => (
          <filter key={"f" + i} id={`blur${idx}_${i}`} x="-5%" y="-5%" width="110%" height="110%">
            <feGaussianBlur stdDeviation={bd.blur || 0} />
          </filter>
        ))}
      </defs>
      <g clipPath={`url(#${clipId})`}>
        {p.bands.map((bd, i) => {
          const area = d3
            .area<number>()
            .x((_, k) => x(bd.x[k]))
            .y0((_, k) => y(bd.lo[k]))
            .y1((_, k) => y(bd.hi[k]));
          return (
            <path
              key={"b" + i}
              d={area(bd.x) || ""}
              fill="#000"
              fillOpacity={bd.op}
              stroke="#000"
              strokeOpacity={bd.op * 0.6}
              strokeWidth={1.2}
              filter={`url(#blur${idx}_${i})`}
            />
          );
        })}
        {p.lines.map((ln, i) => {
          const line = d3
            .line<number>()
            .x((_, k) => x(ln.x[k]))
            .y((d) => y(d));
          return (
            <path key={"l" + i} d={line(ln.y) || ""} fill="none" stroke="#000" strokeOpacity={ln.op} strokeWidth={ln.w} strokeLinejoin="round" />
          );
        })}
      </g>
      {p.dots &&
        X_TICKS.map((v) => <rect key={"d" + v} x={x(v) + 1} y={b - 8} width={2} height={1.5} fill="#666" />)}
      <rect x={l} y={t} width={r - l} height={b - t} fill="none" stroke="#000" strokeWidth={2.2} />
      <line x1={x(0)} x2={x(100)} y1={b} y2={b} stroke="#000" strokeWidth={2.2} />
      {X_TICKS.map((v) => (
        <g key={"xt" + v}>
          <line x1={x(v)} x2={x(v)} y1={b} y2={b + tick} stroke="#000" strokeWidth={2} />
          <text x={x(v)} y={b + 23.5} fontSize={p.tickSize} fontFamily={FONT} textAnchor="middle" dominantBaseline="central">
            {v}
          </text>
        </g>
      ))}
      {Y_TICKS.map((v) => (
        <g key={"yt" + v}>
          <line x1={l} x2={l - tick} y1={y(v)} y2={y(v)} stroke="#000" strokeWidth={2} />
          <text
            x={l - 25}
            y={y(v)}
            fontSize={p.tickSize}
            fontFamily={FONT}
            textAnchor="middle"
            dominantBaseline="central"
            transform={`rotate(-90 ${l - 25} ${y(v)})`}
          >
            {v.toFixed(1)}
          </text>
        </g>
      ))}
      <text x={p.titleX} y={p.titleY} fontSize={p.titleSize} fontFamily={FONT} textAnchor="middle" dominantBaseline="central">
        {p.title}
      </text>
      <text x={p.xlabX} y={p.xlabY} fontSize={p.xlabSize} fontFamily={FONT} textAnchor="middle" dominantBaseline="central">
        {X_LABEL}
      </text>
    </g>
  );
}

const BARS = [
  { label: GROUP_LABELS[0], rect: [9.6, 567.5, 2197, 623.3], tx: 935, ty: 602.7, size: 38.7, len: 293 },
  { label: GROUP_LABELS[1], rect: [17, 1176.7, 1096.5, 1231.7], tx: 296, ty: 1215, size: 35.5, len: 244 },
  { label: GROUP_LABELS[2], rect: [1133.7, 1177, 1654.2, 1232.5], tx: 1432.6, ty: 1214, size: 35.5, len: 244 },
];

export default function App() {
  return (
    <svg
      width={2200}
      height={1237}
      viewBox="0 0 2200 1237"
      style={{ position: "absolute", left: 0, top: 0, background: "#fff" }}
    >
      <rect x={0} y={0} width={2200} height={1237} fill="#fff" />
      {PANELS.map((p, i) => (
        <Panel key={i} p={p} idx={i} />
      ))}
      {BARS.map((bar, i) => (
        <g key={"bar" + i}>
          <rect
            x={bar.rect[0]}
            y={bar.rect[1]}
            width={bar.rect[2] - bar.rect[0]}
            height={bar.rect[3] - bar.rect[1]}
            fill="#cbcbcb"
            stroke="#000"
            strokeWidth={2.6}
          />
          <text
            x={bar.tx}
            y={bar.ty}
            fontSize={bar.size}
            fontFamily={NARROW}
            textAnchor="middle"
            textLength={bar.len}
            lengthAdjust="spacingAndGlyphs"
          >
            {bar.label}
          </text>
        </g>
      ))}
    </svg>
  );
}
